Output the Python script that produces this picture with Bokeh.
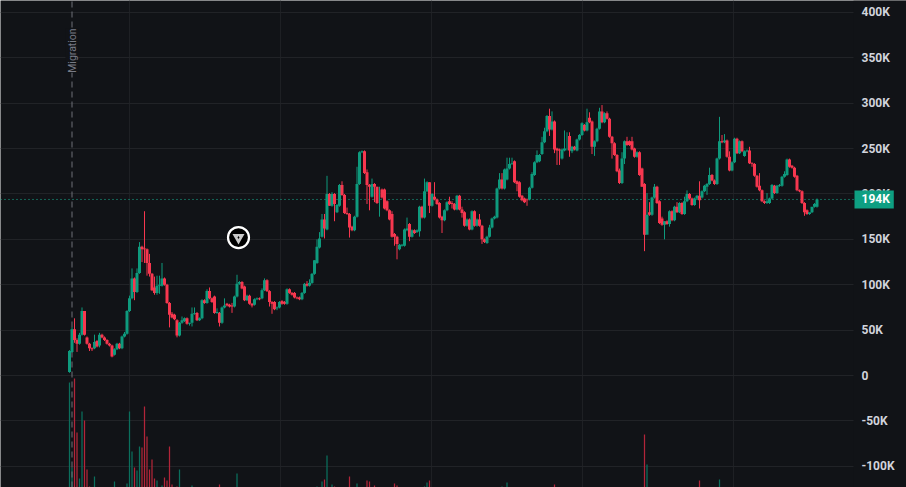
from bokeh.plotting import figure
from bokeh.models import ColumnDataSource, FixedTicker, Label, LinearAxis, Range1d
from bokeh.embed import file_html
from bokeh.resources import INLINE

opens = [4,26,51,39,35,45,71,42,35,30, 30,38,33,45,42,39,35,33,23,29,
         35,30,43,46,71,85,107,92,113,142, 140,139,124,112,97,91,99,99,107,100,
         80,68,67,61,44,58,60,63,57,58, 68,69,61,63,83,80,93,85,87,69,
         69,58,75,79,78,77,76,87,101,103, 98,83,88,79,78,84,85,85,94,105,
         93,81,81,74,75,82,81,79,95,91, 91,86,86,84,91,101,99,102,112,124,
         141,153,172,161,200,187,200,180,187,210, 199,179,178,164,160,175,211,246,247,224,
         210,197,211,208,192,205,205,192,182,178, 156,153,139,143,143,160,167,153,160,158,
         159,186,174,203,213,187,197,194,190,175, 171,182,192,190,189,183,198,183,180,165,
         172,161,181,165,172,165,150,146,153,163, 173,174,206,216,206,216,228,233,236,214,
         213,198,195,194,194,207,221,235,236,244, 257,269,286,271,280,250,249,239,248,263,
         264,247,252,248,260,265,276,270,284,280, 252,258,272,291,279,289,283,263,256,243,
         226,212,239,258,258,258,250,241,246,228, 211,155,180,177,196,208,192,173,166,170,
         167,181,171,186,180,190,178,192,200,195, 188,195,198,196,203,208,211,221,215,211,
         239,258,257,259,241,226,235,261,245,258, 242,247,248,234,233,220,209,204,192,190,
         190,195,209,201,209,209,219,221,238,231, 229,220,204,203,190,182,178,180,186,186]
closes = [27,51,39,35,45,71,45,35,30,29, 37,32,45,42,39,35,33,21,29,35,
          30,43,46,71,85,107,92,113,142,139, 139,124,112,94,91,99,100,107,100,80,
          67,64,62,44,58,61,63,57,58,68, 69,61,63,83,80,93,85,81,69,70,
          58,75,77,77,76,76,87,101,103,96, 83,88,79,77,84,85,84,94,105,93,
          81,79,73,75,81,79,79,95,91,89, 86,85,84,91,101,99,102,112,127,142,
          151,172,162,200,187,200,189,188,210,199, 179,178,163,160,175,211,246,247,223,210,
          208,211,208,190,192,196,184,182,172,153, 153,145,144,144,161,162,153,160,157,160,
          186,174,203,213,187,200,194,189,174,171, 182,191,189,189,183,198,183,179,165,172,
          161,181,165,172,165,150,147,153,163,173, 175,206,216,206,227,228,233,234,213,211,
          197,193,191,193,207,222,235,243,243,257, 269,286,271,280,249,248,248,249,250,263,
          248,252,249,260,265,278,270,279,279,252, 258,272,291,279,289,283,263,256,243,225,
          212,239,258,254,254,249,241,246,221,208, 155,177,177,196,208,190,168,166,170,167,
          181,171,186,180,190,178,192,200,195,188, 195,198,193,203,209,211,221,215,211,239,
          258,257,259,241,226,235,261,245,258,247, 247,248,234,233,220,208,204,192,190,192,
          195,210,201,209,210,219,222,238,230,229, 219,204,203,190,180,178,180,186,189,194]
highs = [28,53,63,41,47,75,71,43,36,31, 45,39,47,46,43,40,36,34,30,36,
         36,44,48,72,88,118,108,118,147,143, 181,140,134,113,109,110,110,124,108,101,
         81,70,68,62,59,65,64,64,58,75, 75,70,64,84,84,95,97,86,88,74,
         70,76,85,80,79,80,88,111,104,104, 99,89,89,80,85,86,86,96,107,106,
         94,82,82,76,82,83,82,96,96,92, 92,87,87,92,102,104,106,113,127,150,
         158,178,178,220,201,202,201,189,211,214, 200,185,179,165,176,230,247,248,248,227,
         211,217,212,208,208,206,206,193,183,181, 157,154,145,145,162,174,168,161,161,161,
         187,187,217,214,213,201,213,195,191,176, 183,192,197,192,190,199,199,186,181,173,
         173,182,182,173,178,166,151,154,166,174, 176,207,223,223,228,240,240,240,237,215,
         214,199,196,195,208,224,236,248,244,263, 273,287,294,291,281,251,250,250,270,268,
         268,253,253,261,266,279,277,294,290,281, 259,273,295,298,290,291,284,264,257,244,
         228,246,259,263,259,263,251,247,247,229, 212,201,191,197,211,209,193,175,170,171,
         182,182,187,191,191,191,197,204,201,196, 196,199,214,204,210,212,229,222,216,240,
         285,265,266,260,247,236,262,262,259,259, 248,249,252,235,234,221,223,205,193,201,
         196,211,210,210,211,220,225,239,239,232, 230,221,205,204,191,183,179,181,190,195]
lows = [3,25,36,26,34,44,44,34,27,27, 29,31,31,41,38,34,32,20,22,28,
        29,29,42,45,70,84,83,91,112,125, 124,110,109,93,89,89,90,98,99,79,
        53,63,61,42,43,57,59,56,55,54, 67,60,60,62,79,79,84,80,68,68,
        54,57,74,76,75,69,75,86,100,95, 82,82,78,75,77,83,83,84,93,92,
        76,68,72,72,74,78,78,78,90,88, 85,84,83,83,90,98,98,101,111,123,
        140,152,151,160,187,186,170,179,186,198, 178,177,152,159,159,174,210,245,222,189,
        182,196,191,189,175,195,183,181,171,152, 143,128,138,142,142,159,148,152,156,157,
        153,173,173,202,179,186,193,188,173,157, 170,181,188,184,182,182,182,174,164,164,
        160,160,164,164,164,145,146,145,152,162, 172,173,205,205,205,215,227,232,212,203,
        196,192,190,187,193,206,220,234,235,243, 256,268,264,270,245,232,232,238,247,248,
        241,245,248,247,259,264,269,269,278,244, 242,257,271,278,278,282,262,239,242,224,
        211,211,233,253,253,248,240,240,220,208, 137,176,176,176,195,189,167,165,150,166,
        164,170,170,179,179,177,177,191,194,187, 187,194,184,195,202,199,210,214,210,210,
        238,256,256,240,225,225,234,244,244,246, 241,246,233,230,219,207,203,191,189,189,
        189,194,200,200,208,208,218,220,229,228, 218,203,202,189,176,177,177,179,185,185]

vol_green_index = [0,1,4,5,10,18,23,24,25,27,28,35,37,44,49,67,99,101,103,105,115,142,143,173,175,231,260]
vol_green_value = [105,20,9,76,11,6,4,76,36,17,41,7,2,18,2,14,1,6,32,3,4,1,5,1,5,23,8]
vol_red_index = [2,3,6,7,8,26,29,30,31,32,33,34,38,39,40,41,43,60,102,106,112,119,120,122,130,131,144,194,230,252]
vol_red_value = [109,55,67,18,1,20,40,81,51,18,28,9,10,7,41,3,1,3,8,1,11,7,6,2,4,2,7,3,53,7]

tick_values = [400,350,300,250,200,150,100,50,0,-50,-100]
tick_labels = ["400K","350K","300K","250K","200K","150K","100K","50K","0","-50K","-100K"]
vertical_grid = [24,84.4,144.8,205.2,265.6]
last_price = 194
last_label = "194K"
migration_index = 1
logo_index = [67.6]
logo_price = [152]

BG = "#111317"
UP = "#0e9a7d"
DOWN = "#f7374f"
X_START, PLOT_END, X_END = -27.6, 313.6, 334.8
Y_START, Y_END = -123.4, 413.2

p = figure(width=906, height=487, frame_width=906, frame_height=487,
           output_backend="svg", toolbar_location=None,
           x_range=Range1d(X_START, X_END), y_range=Range1d(Y_START, Y_END),
           background_fill_color=BG, border_fill_color=BG, outline_line_color=None,
           min_border=0, y_axis_location=None, x_axis_location=None)

p.ygrid.ticker = FixedTicker(ticks=tick_values)
p.xgrid.ticker = FixedTicker(ticks=vertical_grid)
p.ygrid.grid_line_color = "#212327"
p.xgrid.grid_line_color = "#1e2024"
p.ygrid.grid_line_width = 1
p.xgrid.grid_line_width = 1

# price-scale strip: hides the horizontal rules right of the plotting area
p.quad(left=[PLOT_END], right=[X_END], bottom=[Y_START], top=[Y_END], fill_color=BG, line_color=None)

axis = LinearAxis(ticker=FixedTicker(ticks=tick_values), fixed_location=PLOT_END,
                  major_label_overrides=dict(zip(tick_values, tick_labels)),
                  axis_line_color=None, major_tick_line_color=None, minor_tick_line_color=None,
                  major_label_text_color="#d1d4dc", major_label_text_font="Roboto",
                  major_label_text_font_size="12px", major_label_text_font_style="bold",
                  major_label_standoff=2)
p.add_layout(axis, "right")

p.extra_y_ranges = {"volume": Range1d(0, 487)}

idx = list(range(len(closes)))
src = ColumnDataSource(dict(
    x=idx, o=opens, c=closes, h=highs, l=lows,
    bottom=[min(a, b) for a, b in zip(opens, closes)],
    top=[max(a, b) for a, b in zip(opens, closes)],
    color=[UP if c >= o else DOWN for o, c in zip(opens, closes)],
))

p.vbar(vol_green_index, width=0.5, top=vol_green_value, bottom=0, y_range_name="volume",
       fill_color="#0b6f5d", line_color=None)
p.vbar(vol_red_index, width=0.5, top=vol_red_value, bottom=0, y_range_name="volume",
       fill_color="#b32539", line_color=None)

p.segment([migration_index], [Y_START], [migration_index], [Y_END], line_color="#6f7178",
          line_width=1, line_dash="6 4")
p.segment([X_START], [last_price], [PLOT_END], [last_price], line_color="#19b596",
          line_width=1, line_dash="1 3")

p.segment("x", "l", "x", "h", source=src, line_color="color", line_width=1)
p.vbar("x", width=1.2, bottom="bottom", top="top", source=src, fill_color="color", line_color=None)

p.scatter(logo_index, logo_price, size=21, marker="circle", fill_color="#000000",
          line_color="#ffffff", line_width=2.2)
p.scatter(logo_index, logo_price, size=12, marker="inverted_triangle", fill_color="#c8c8c8",
          line_color=None)
p.scatter(logo_index, logo_price, size=3, marker="diamond", fill_color="#000000",
          line_color=None)

p.add_layout(Label(x=migration_index, y=358, text="Migration", angle=90, angle_units="deg",
                   text_color="#787b86", text_font="Roboto", text_font_size="10.5px",
                   text_align="center", text_baseline="middle",
                   background_fill_color=BG))

p.add_layout(Label(x=PLOT_END, y=last_price, text=last_label, text_color="#ffffff",
                   text_font="Roboto", text_font_size="12px", text_font_style="bold",
                   text_align="left", text_baseline="middle", x_offset=1,
                   background_fill_color="#0e9f82", padding=dict(left=7, right=4, top=2, bottom=2)))

open("out.html", "w").write(file_html(p, INLINE))
